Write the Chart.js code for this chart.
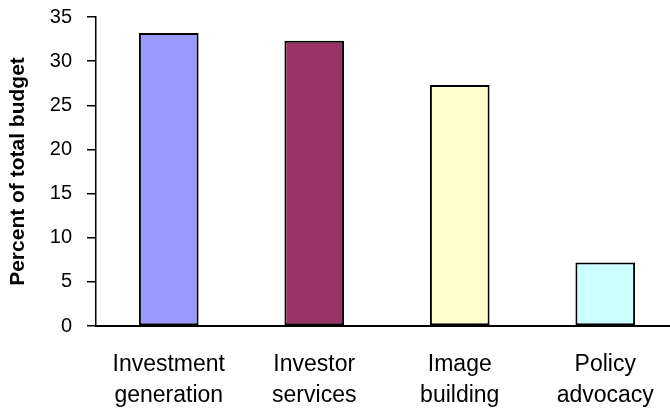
<!DOCTYPE html>
<html>
<head>
<meta charset="utf-8">
<script src="https://cdn.jsdelivr.net/npm/chart.js@4"></script>
<style>
  html, body { margin: 0; padding: 0; background: #fff; overflow: hidden; }
  #budgetChart { display: block; }
</style>
</head>
<body>
<canvas id="budgetChart" width="678" height="408"></canvas>
<script>
const categories = [['Investment', 'generation'], ['Investor', 'services'], ['Image', 'building'], ['Policy', 'advocacy']];
const budgetShare = [33.2, 32.3, 27.3, 7.2];
const barColors = ['#9999FF', '#993366', '#FFFFCC', '#CCFFFF'];
const yTicks = [0, 5, 10, 15, 20, 25, 30, 35];

const ctx = document.getElementById('budgetChart').getContext('2d');
const fontFamily = '"Liberation Sans", Arial, sans-serif';

new Chart(ctx, {
    type: 'bar',
    data: {
        labels: categories,
        datasets: [{
            label: 'Percent of total budget',
            data: budgetShare,
            backgroundColor: barColors,
            borderColor: '#000',
            borderWidth: 2,
            borderSkipped: false,
            barPercentage: 0.41,
            categoryPercentage: 1
        }]
    },
    options: {
        responsive: false,
        animation: false,
        layout: { padding: { top: 17, left: 0, right: 0, bottom: 0 } },
        plugins: {
            legend: { display: false },
            tooltip: { enabled: false }
        },
        scales: {
            x: {
                grid: { display: false },
                border: { display: true, color: '#000', width: 2 },
                ticks: {
                    color: '#000',
                    padding: 15,
                    maxRotation: 0,
                    font: { family: fontFamily, size: 23, lineHeight: 1.35 }
                },
                afterFit: function (scale) {
                    scale.height = 82;
                    scale.paddingLeft = 0;
                    scale.paddingRight = 0;
                }
            },
            y: {
                min: 0,
                max: 35,
                afterBuildTicks: function (scale) {
                    scale.ticks = yTicks.map(v => ({ value: v }));
                },
                grid: {
                    drawOnChartArea: false,
                    drawTicks: true,
                    tickLength: 9,
                    color: '#000',
                    lineWidth: 1.5
                },
                border: { display: true, color: '#000', width: 1.5 },
                ticks: {
                    color: '#000',
                    padding: 15,
                    font: { family: fontFamily, size: 20 }
                },
                title: {
                    display: true,
                    text: 'Percent of total budget',
                    color: '#000',
                    padding: { top: 6, bottom: 0 },
                    font: { family: fontFamily, size: 21, weight: 'bold' }
                },
                afterFit: function (scale) {
                    scale.width = 96;
                    scale.paddingTop = 0;
                    scale.paddingBottom = 0;
                }
            }
        }
    }
});
</script>
</body>
</html>
